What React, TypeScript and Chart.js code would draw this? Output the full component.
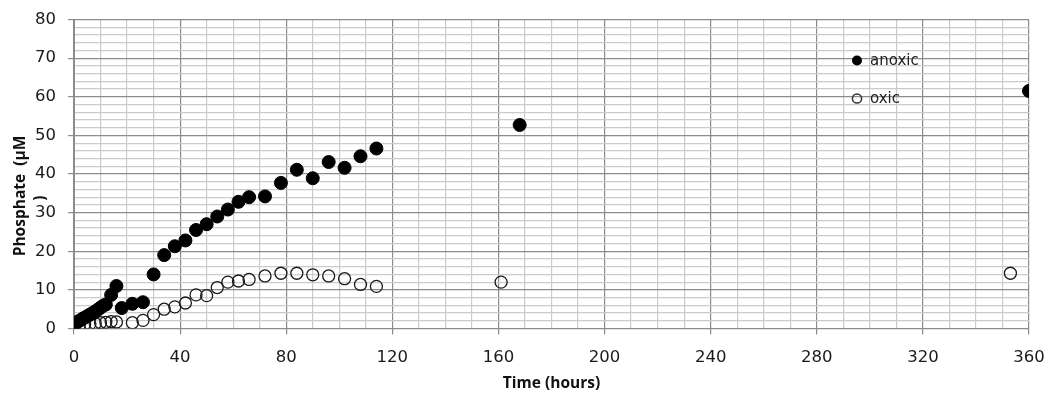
import React, { useEffect, useRef } from "react";
import { Chart, registerables } from "chart.js";

Chart.register(...registerables);

const anoxicTime = [0, 1, 2, 3, 4, 5, 6, 7, 8, 9, 10, 11, 12, 14, 16, 18, 22, 26, 30, 34, 38, 42, 46, 50, 54, 58, 62, 66, 72, 78, 84, 90, 96, 102, 108, 114, 168, 360];
const anoxicP = [1.2, 1.6, 2.0, 2.4, 2.8, 3.2, 3.6, 4.0, 4.4, 4.9, 5.4, 5.9, 6.2, 8.7, 11.0, 5.3, 6.4, 6.8, 14.0, 19.0, 21.3, 22.8, 25.5, 27.0, 29.0, 30.8, 32.8, 34.0, 34.2, 37.7, 41.1, 38.9, 43.1, 41.6, 44.6, 46.6, 52.7, 61.5];

const oxicTime = [0, 2, 4, 6, 8, 10, 12, 14, 16, 22, 26, 30, 34, 38, 42, 46, 50, 54, 58, 62, 66, 72, 78, 84, 90, 96, 102, 108, 114, 161, 353];
const oxicP = [0.8, 0.9, 1.1, 1.2, 1.3, 1.5, 1.6, 1.8, 1.7, 1.5, 2.1, 3.6, 5.0, 5.6, 6.6, 8.7, 8.5, 10.6, 12.0, 12.3, 12.7, 13.6, 14.3, 14.3, 13.9, 13.6, 12.9, 11.4, 10.9, 12.0, 14.3];

const seriesNames = ["anoxic", "oxic"];
const yTitleLines = ["Phosphate  (\u00b5M", ")"];
const xTitle = "Time (hours)";

const MAJOR = "#8c8c8c";
const MINOR = "#cbcbcb";
const TICK_FONT = { family: "DejaVu Sans", size: 16.5 };

export default function App() {
  const ref = useRef<HTMLCanvasElement | null>(null);

  useEffect(() => {
    if (!ref.current) return;

    const legendAndTitle = {
      id: "legendAndTitle",
      afterDraw(chart: any) {
        const { ctx, chartArea } = chart;
        ctx.save();
        // y axis title
        ctx.fillStyle = "#111";
        ctx.font = "bold 15.5px 'Open Sans'";
        ctx.textAlign = "center";
        ctx.textBaseline = "middle";
        const cy = (chartArea.top + chartArea.bottom) / 2 + 22;
        ctx.save();
        ctx.translate(chartArea.left - 53, cy);
        ctx.rotate(-Math.PI / 2);
        ctx.fillText(yTitleLines[0], 0, 0);
        ctx.restore();
        ctx.save();
        ctx.translate(chartArea.left - 33, cy + 2);
        ctx.rotate(-Math.PI / 2);
        ctx.fillText(yTitleLines[1], 0, 0);
        ctx.restore();

        // legend
        const lx = chartArea.right - 172;
        const ly = [chartArea.top + 41, chartArea.top + 79];
        ctx.font = "15px 'DejaVu Sans'";
        ctx.textAlign = "left";
        seriesNames.forEach((name, i) => {
          ctx.beginPath();
          ctx.arc(lx, ly[i], i === 0 ? 5 : 4.6, 0, Math.PI * 2);
          if (i === 0) {
            ctx.fillStyle = "#000";
            ctx.fill();
          } else {
            ctx.lineWidth = 1.5;
            ctx.strokeStyle = "#333";
            ctx.stroke();
          }
          ctx.fillStyle = "#222";
          ctx.fillText(name, lx + 13, ly[i] + 1);
        });
        ctx.restore();
      },
    };

    const chart = new Chart(ref.current, {
      type: "scatter",
      data: {
        datasets: [
          {
            label: seriesNames[0],
            data: anoxicTime.map((t, i) => ({ x: t, y: anoxicP[i] })),
            backgroundColor: "#000",
            borderColor: "#000",
            pointRadius: 6.5,
            pointBorderWidth: 1,
          },
          {
            label: seriesNames[1],
            data: oxicTime.map((t, i) => ({ x: t, y: oxicP[i] })),
            backgroundColor: "rgba(0,0,0,0)",
            borderColor: "#1a1a1a",
            pointRadius: 6,
            pointBorderWidth: 1.3,
          },
        ],
      },
      options: {
        animation: false,
        responsive: false,
        devicePixelRatio: 1,
        layout: { padding: { left: 0, right: 25, top: 19.5, bottom: 0 } },
        plugins: { legend: { display: false }, tooltip: { enabled: false } },
        scales: {
          x: {
            type: "linear",
            min: 0,
            max: 360,
            afterFit: (s: any) => {
              s.height = 72.5;
              s.paddingRight = 0;
              s.paddingLeft = 0;
            },
            border: { color: MAJOR, width: 1 },
            grid: {
              color: (c: any) => (c.tick && c.tick.value % 40 === 0 ? MAJOR : MINOR),
              lineWidth: 1.2,
              tickColor: (c: any) => (c.tick && c.tick.value % 40 === 0 ? MAJOR : "rgba(0,0,0,0)"),
              tickLength: 6,
            },
            ticks: {
              stepSize: 10,
              autoSkip: false,
              maxRotation: 0,
              maxTicksLimit: 1000,
              color: "#1a1a1a",
              font: TICK_FONT,
              padding: 13,
              callback: (v: any) => (Number(v) % 40 === 0 ? String(v) : ""),
            },
            title: {
              display: true,
              text: xTitle,
              color: "#111",
              font: { family: "Open Sans", size: 15.5, weight: "bold" },
              padding: { top: 0, bottom: 8 },
            },
          },
          y: {
            type: "linear",
            min: 0,
            max: 80,
            afterFit: (s: any) => {
              s.width = 74;
              s.paddingTop = 0;
              s.paddingBottom = 0;
            },
            border: { color: MAJOR, width: 1 },
            grid: {
              color: (c: any) => (c.tick && c.tick.value % 10 === 0 ? MAJOR : MINOR),
              lineWidth: 1.2,
              tickColor: (c: any) => (c.tick && c.tick.value % 10 === 0 ? MAJOR : "rgba(0,0,0,0)"),
              tickLength: 6,
            },
            ticks: {
              stepSize: 2,
              autoSkip: false,
              maxTicksLimit: 1000,
              color: "#1a1a1a",
              font: TICK_FONT,
              padding: 12,
              callback: (v: any) => (Number(v) % 10 === 0 ? String(v) : ""),
            },
          },
        },
      },
      plugins: [legendAndTitle],
    });

    return () => chart.destroy();
  }, []);

  return (
    <div style={{ position: "absolute", left: 0, top: 0, width: 1054, height: 401, background: "#fff" }}>
      <canvas ref={ref} width={1054} height={401} style={{ width: 1054, height: 401, display: "block" }} />
    </div>
  );
}
